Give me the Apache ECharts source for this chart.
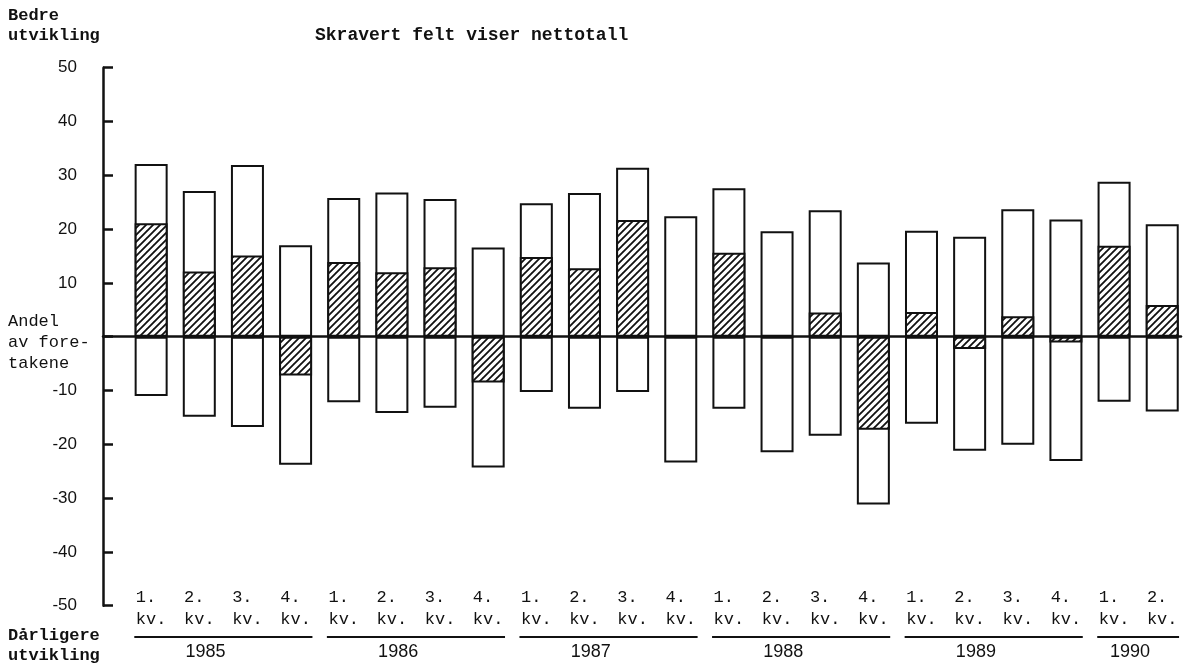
<!DOCTYPE html>
<html>
<head>
<meta charset="utf-8">
<script src="https://cdn.jsdelivr.net/npm/echarts@6/dist/echarts.min.js"></script>
<style>
html,body{margin:0;padding:0;background:#fff;}
#c{width:1192px;height:671px;}
</style>
</head>
<body>
<div id="c"></div>
<script>
// Quarter labels (one per bar), 1985 Q1 .. 1990 Q2
const quarterLabels = ['1.','2.','3.','4.','1.','2.','3.','4.','1.','2.','3.','4.','1.','2.','3.','4.','1.','2.','3.','4.','1.','2.'];
const years = ['1985','1986','1987','1988','1989','1990'];
const quartersPerYear = [4,4,4,4,4,2];
// Share of firms reporting better development (%)
const better = [32.1, 27.1, 31.9, 17.0, 25.8, 26.8, 25.6, 16.6, 24.8, 26.7, 31.4, 22.4, 27.6, 19.6, 23.5, 13.8, 19.7, 18.6, 23.7, 21.8, 28.8, 20.9];
// Share of firms reporting worse development (%)
const worse = [-11.0, -14.9, -16.8, -23.8, -12.2, -14.2, -13.2, -24.3, -10.3, -13.4, -10.3, -23.4, -13.4, -21.5, -18.4, -31.2, -16.2, -21.2, -20.1, -23.1, -12.1, -13.9];
// Net total (hatched)
const net = [21.1, 12.1, 15.1, -7.2, 13.9, 12.0, 12.9, -8.5, 14.8, 12.7, 21.7, 0, 15.6, 0, 4.5, -17.3, 4.6, -2.3, 3.8, -1.1, 16.9, 5.9];
const yTicks = [-50,-40,-30,-20,-10,0,10,20,30,40,50];

const INK = '#111';
const MONO = '"Liberation Mono", "DejaVu Sans Mono", monospace';
const SANS = '"Liberation Sans", Arial, sans-serif';

// hatch pattern
const tile = 7;
const pc = document.createElement('canvas');
pc.width = tile; pc.height = tile;
const g = pc.getContext('2d');
g.fillStyle = '#fff'; g.fillRect(0,0,tile,tile);
g.strokeStyle = INK; g.lineWidth = 1.8; g.lineCap = 'square';
[-tile,0,tile].forEach((dx)=>{
  g.beginPath(); g.moveTo(dx, tile); g.lineTo(dx+tile, 0); g.stroke();
});

const chart = echarts.init(document.getElementById('c'), null, {renderer:'canvas'});
const xMin = -1, xMax = 21.39;
const barStyle = {color:'#fff', borderColor: INK, borderWidth: 2};

chart.setOption({
  animation:false,
  backgroundColor:'#fff',
  grid:{left:103, right:11, top:67.7, bottom:65.3},
  xAxis:[
    {type:'value', min:xMin, max:xMax, interval:1, z:10,
     axisLine:{onZero:true, lineStyle:{color:INK, width:2.5}},
     axisTick:{show:false}, axisLabel:{show:false}, splitLine:{show:false}},
    {type:'value', min:xMin, max:xMax, interval:1, position:'bottom', offset:-19,
     axisLine:{show:false, onZero:false}, axisTick:{show:false}, splitLine:{show:false},
     axisLabel:{show:true, margin:0, color:INK, fontFamily:MONO, fontSize:17, lineHeight:22,
       verticalAlign:'top', align:'center',
       formatter:function(v){
         if(!Number.isInteger(v) || v<0 || v>=quarterLabels.length) return '';
         return quarterLabels[v] + ' \nkv.';
       }}}
  ],
  yAxis:{type:'value', min:yTicks[0], max:yTicks[yTicks.length-1], interval:10,
    axisLine:{show:true, onZero:false, lineStyle:{color:INK, width:2.5}},
    axisTick:{show:true, inside:true, length:10, lineStyle:{color:INK, width:2.5}},
    axisLabel:{color:INK, fontFamily:SANS, fontSize:17, margin:26,
      formatter:function(v){ return v === 0 ? '' : String(v); }},
    splitLine:{show:false}},
  series:[
    {type:'bar', name:'Bedre', xAxisIndex:0, barWidth:33, barGap:'-100%',
     data: better.map((v,i)=>[i,v]), itemStyle:barStyle},
    {type:'bar', name:'Dårligere', xAxisIndex:0, barWidth:33, barGap:'-100%',
     data: worse.map((v,i)=>[i,v]), itemStyle:barStyle},
    {type:'bar', name:'Netto', xAxisIndex:0, barWidth:33, barGap:'-100%',
     data: net.map((v,i)=>[i,v]),
     itemStyle:{color:{image:pc, repeat:'repeat'}, borderColor:INK, borderWidth:2}}
  ]
});

// year rules and labels via axis conversion
const graphics = [];
let start = 0;
const halfBar = 0.35;
const ruleY = 637;
years.forEach((yr, k)=>{
  const n = quartersPerYear[k];
  const a = chart.convertToPixel({xAxisIndex:0, yAxisIndex:0}, [start - halfBar, 0])[0];
  const b = chart.convertToPixel({xAxisIndex:0, yAxisIndex:0}, [start + n - 1 + halfBar, 0])[0];
  graphics.push({type:'line', shape:{x1:a, y1:ruleY, x2:b, y2:ruleY}, style:{stroke:INK, lineWidth:2}});
  graphics.push({type:'text', x: a + (b-a)*0.4, y: ruleY+6,
    style:{text:yr, fill:INK, font:'18px ' + SANS, textAlign:'center', textVerticalAlign:'top'}});
  start += n;
});
// Side annotations
graphics.push({type:'text', left:8, top:6, style:{text:'Bedre\nutvikling', fill:INK, font:'bold 17px ' + MONO, lineHeight:20}});
graphics.push({type:'text', left:315, top:26, style:{text:'Skravert felt viser nettotall', fill:INK, font:'bold 18px ' + MONO}});
graphics.push({type:'text', left:8, top:311, style:{text:'Andel\nav fore-\ntakene', fill:INK, font:'17px ' + MONO, lineHeight:21}});
graphics.push({type:'text', left:8, top:626, style:{text:'Dårligere\nutvikling', fill:INK, font:'bold 17px ' + MONO, lineHeight:20}});
chart.setOption({graphic: graphics});
</script>
</body>
</html>
